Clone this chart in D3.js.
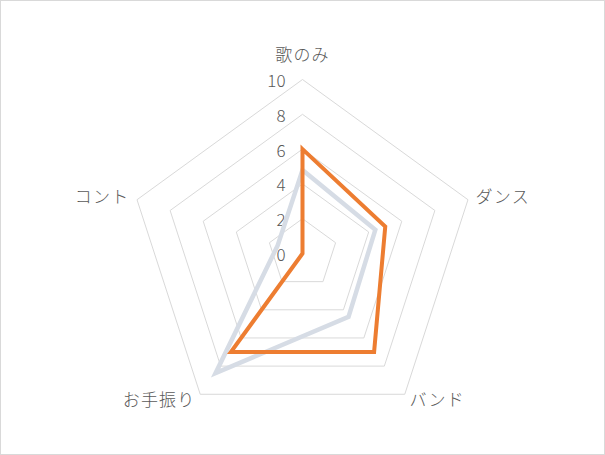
<!DOCTYPE html>
<html>
<head>
<meta charset="utf-8">
<script src="https://cdn.jsdelivr.net/npm/d3@7"></script>
<style>
  body { margin: 0; background: #fff; }
  svg text { font-family: "Noto Sans CJK JP", "Noto Sans", sans-serif; fill: #595959; font-weight: 300; }
</style>
</head>
<body>
<svg width="605" height="455"></svg>
<script>
// chart data
const categories = ['歌のみ', 'ダンス', 'バンド', 'お手振り', 'コント'];
const seriesGray = [4.8, 4.4, 4.5, 8.5, 1.5];
const seriesOrange = [6, 5, 7, 7, 0];
const tickValues = [0, 2, 4, 6, 8, 10];

const width = 605, height = 455;
const cx = 302.5, cy = 253.5, R = 174;

let svg = d3.select('svg');

// chart frame
svg.append('rect')
  .attr('x', 0.5).attr('y', 0.5)
  .attr('width', width - 1).attr('height', height - 1)
  .attr('fill', '#fff')
  .attr('stroke', '#d9d9d9');

let r = d3.scaleLinear().domain([0, 10]).range([0, R]);
let angle = d3.scaleLinear().domain([0, categories.length]).range([0, 2 * Math.PI]);

let g = svg.append('g').attr('transform', `translate(${cx},${cy})`);

// grid pentagons
let gridLine = d3.lineRadial()
  .angle((d, i) => angle(i))
  .radius((d) => r(d))
  .curve(d3.curveLinearClosed);

tickValues.filter((t) => t > 0).forEach((t) => {
  g.append('path')
    .attr('d', gridLine(categories.map(() => t)))
    .attr('fill', 'none')
    .attr('stroke', '#d9d9d9')
    .attr('stroke-width', 1);
});

// tick labels along the top axis
g.selectAll('.tick')
  .data(tickValues)
  .join('text')
  .attr('class', 'tick')
  .attr('x', -17)
  .attr('y', (d) => -r(d))
  .attr('text-anchor', 'end')
  .attr('dominant-baseline', 'central')
  .attr('font-size', 17)
  .text((d) => d);

// series
let seriesLine = d3.lineRadial()
  .angle((d, i) => angle(i))
  .radius((d) => r(d))
  .curve(d3.curveLinearClosed);

[[seriesGray, '#d6dce5', 4.5], [seriesOrange, '#ed7d31', 4]].forEach(([vals, color, w]) => {
  g.append('path')
    .attr('d', seriesLine(vals))
    .attr('fill', 'none')
    .attr('stroke', color)
    .attr('stroke-width', w)
    .attr('stroke-linejoin', 'miter');
});

// category labels
categories.forEach((c, i) => {
  let a = angle(i);
  let dx = Math.sin(a), dy = -Math.cos(a);
  let x = dx * R, y = dy * R;
  let anchor = 'middle';
  if (i === 0) {
    y -= 26;
  } else {
    x += dx * 8;
    y += dy > 0 ? 4 : -4;
    anchor = dx > 0 ? 'start' : 'end';
  }
  g.append('text')
    .attr('x', x)
    .attr('y', y)
    .attr('text-anchor', anchor)
    .attr('dominant-baseline', 'central')
    .attr('font-size', 17)
    .attr('letter-spacing', 1.2)
    .text(c);
});
</script>
</body>
</html>
